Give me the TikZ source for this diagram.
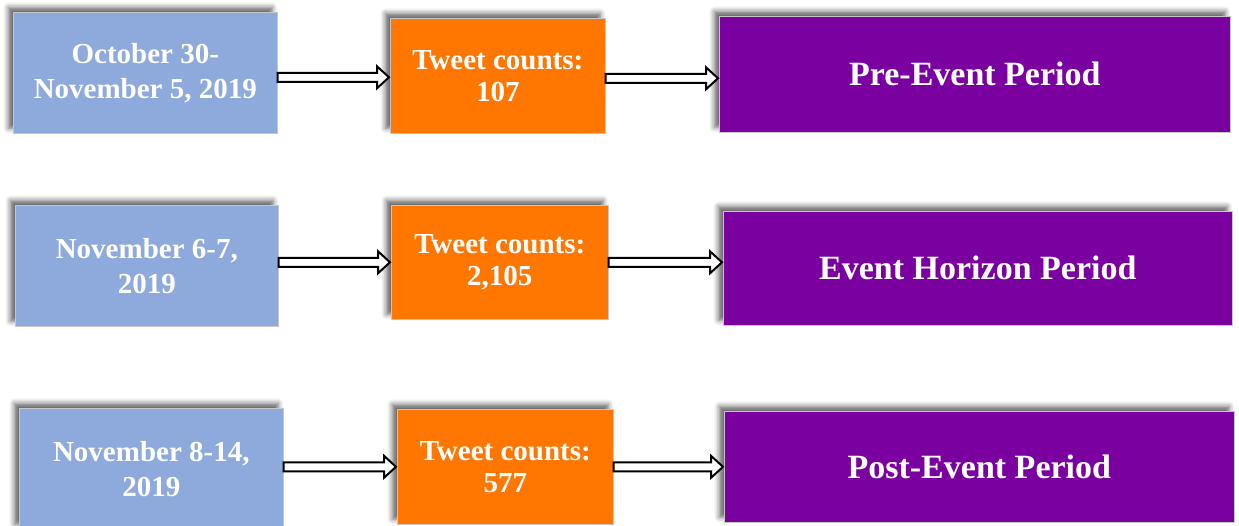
\documentclass[tikz,border=0pt]{standalone}
\usepackage{fontspec}
\setmainfont{Liberation Serif}
\usetikzlibrary{calc,shadows.blur}
\definecolor{dateblue}{HTML}{8EA9DB}
\definecolor{countorange}{HTML}{FF7700}
\definecolor{periodpurple}{HTML}{7A00A0}
\tikzset{
  box/.style={rectangle, draw=black!22, line width=0.6pt, text=white,
    align=center, inner sep=0pt, anchor=north west,
    font=\bfseries\fontsize{29}{35}\selectfont,
    blur shadow={shadow xshift=-5pt, shadow yshift=5pt,
      shadow blur radius=5pt, shadow opacity=60}},
  datebox/.style={box, fill=dateblue},
  countbox/.style={box, fill=countorange, font=\bfseries\fontsize{29}{32}\selectfont},
  periodbox/.style={box, fill=periodpurple, font=\bfseries\fontsize{34}{40}\selectfont},
  % outlined block arrow from the start point to the target point
  flow/.style={draw=black, fill=white, line width=2pt, line join=miter,
    to path={let \p1=(\tikztostart), \p2=(\tikztotarget) in
      (\x1,\y1+4.5pt) -- (\x2-13pt,\y1+4.5pt) -- (\x2-13pt,\y1+11pt)
      -- (\x2-1pt,\y1) -- (\x2-13pt,\y1-11pt) -- (\x2-13pt,\y1-4.5pt)
      -- (\x1,\y1-4.5pt) -- cycle}}
}
\begin{document}
\begin{tikzpicture}[x=1pt, y=-1pt]
  \useasboundingbox (0,0) rectangle (1239,525);

  % row 1
  \node[datebox,   minimum width=264pt, minimum height=121pt] (b1) at (13,12)  {October 30-\\November 5, 2019};
  \node[countbox,  minimum width=215pt, minimum height=115pt] (o1) at (390,18) {Tweet counts:\\107};
  \node[periodbox, minimum width=511pt, minimum height=116pt] (p1) at (719,16) {Pre-Event Period};

  % row 2
  \node[datebox,   minimum width=263pt, minimum height=121pt] (b2) at (15,205)  {November 6-7,\\2019};
  \node[countbox,  minimum width=217pt, minimum height=114pt] (o2) at (391,205) {Tweet counts:\\2,105};
  \node[periodbox, minimum width=509pt, minimum height=114pt] (p2) at (723,211) {Event Horizon Period};

  % row 3
  \node[datebox,   minimum width=264pt, minimum height=121pt] (b3) at (19,408)  {November 8-14,\\2019};
  \node[countbox,  minimum width=216pt, minimum height=115pt] (o3) at (397,409) {Tweet counts:\\577};
  \node[periodbox, minimum width=510pt, minimum height=111pt] (p3) at (724,411) {Post-Event Period};

  % connectors
  \path[flow] ([yshift=-4.5pt]b1.east) to ([yshift=-4.5pt]b1.east -| o1.west);
  \path[flow] ([yshift=-2.5pt]o1.east) to ([yshift=-2.5pt]o1.east -| p1.west);
  \path[flow] ([yshift=3.5pt]b2.east) to ([yshift=3.5pt]b2.east -| o2.west);
  \path[flow] (o2.east) to (o2.east -| p2.west);
  \path[flow] ([yshift=2pt]b3.east) to ([yshift=2pt]b3.east -| o3.west);
  \path[flow] (o3.east) to (o3.east -| p3.west);
\end{tikzpicture}
\end{document}
